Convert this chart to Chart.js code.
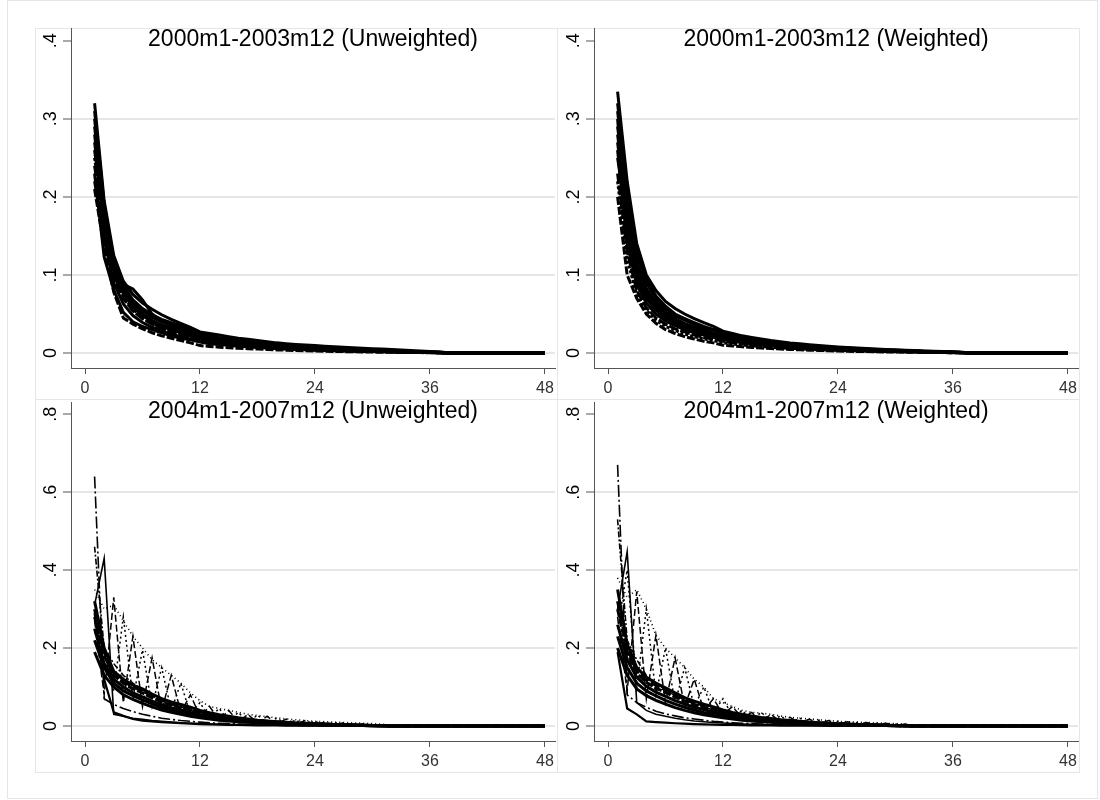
<!DOCTYPE html>
<html>
<head>
<meta charset="utf-8">
<script src="https://cdn.jsdelivr.net/npm/chart.js@4.4.1/dist/chart.umd.min.js"></script>
<style>
html,body{margin:0;padding:0;background:#fff;}
#page{position:relative;width:1100px;height:800px;overflow:hidden;background:#fff;}
.frame{position:absolute;border:1px solid #e6e6e6;box-sizing:border-box;}
canvas{position:absolute;}
</style>
</head>
<body>
<div id="page">
<div class="frame" style="left:7px;top:0;width:1091px;height:799px"></div>
<div class="frame" style="left:35px;top:28px;width:523px;height:372px"></div>
<div class="frame" style="left:557px;top:28px;width:523px;height:372px"></div>
<div class="frame" style="left:35px;top:399px;width:523px;height:374px"></div>
<div class="frame" style="left:557px;top:399px;width:523px;height:374px"></div>
<canvas id="cTL" width="522" height="399" style="left:35px;top:0"></canvas>
<canvas id="cTR" width="522" height="399" style="left:558px;top:0"></canvas>
<canvas id="cBL" width="522" height="401" style="left:35px;top:399px"></canvas>
<canvas id="cBR" width="522" height="401" style="left:558px;top:399px"></canvas>
</div>
<script>
// ---------- categories / ticks ----------
const months = [1,2,3,4,5,6,7,8,9,10,11,12,13,14,15,16,17,18,19,20,21,22,23,24,25,26,27,28,29,30,31,32,33,34,35,36,37,38,39,40,41,42,43,44,45,46,47,48];
const xTickValues = [0,12,24,36,48];
const xTickLabels = ['0','12','24','36','48'];
const topYTicks = [0,0.1,0.2,0.3,0.4];
const topYLabels = ['0','.1','.2','.3','.4'];
const botYTicks = [0,0.2,0.4,0.6,0.8];
const botYLabels = ['0','.2','.4','.6','.8'];
const panelTitles = ['2000m1-2003m12 (Unweighted)','2000m1-2003m12 (Weighted)','2004m1-2007m12 (Unweighted)','2004m1-2007m12 (Weighted)'];

// ---------- 2000m1-2003m12 unweighted ----------
const u0a = [.32,.195,.125,.092,.075,.064,.056,.049,.043,.038,.033,.027,.025,.023,.021,.019,.0175,.016,.0145,.013,.012,.011,.0102,.0095,.0088,.0081,.0075,.0069,.0062,.0055,.005,.0044,.0038,.0032,.0027,.002,.0015,0,0,0,0,0,0,0,0,0,0,0];
const u0b = [.21,.135,.078,.045,.037,.031,.026,.022,.019,.016,.013,.0095,.0085,.0075,.0068,.006,.0055,.005,.0045,.004,.0036,.0032,.0028,.0025,.0022,.002,.0018,.0016,.0014,.0012,.001,.0009,.0008,.0006,.0005,.0003,.0002,0,0,0,0,0,0,0,0,0,0,0];
const u0c = [.30,.185,.118,.085,.066,.054,.046,.040,.035,.031,.028,.024,.021,.019,.017,.015,.0135,.012,.011,.0098,.0088,.008,.0072,.0065,.0059,.0053,.0048,.0043,.0038,.0034,.003,.0026,.0022,.0018,.0014,.001,.0006,0,0,0,0,0,0,0,0,0,0,0];
const u0d = [.28,.175,.11,.08,.062,.05,.042,.036,.032,.028,.025,.021,.019,.017,.015,.0135,.012,.0108,.0097,.0087,.0078,.007,.0063,.0056,.005,.0045,.004,.0036,.0032,.0028,.0024,.002,.0017,.0014,.0011,.0008,.0005,0,0,0,0,0,0,0,0,0,0,0];
const u0e = [.26,.165,.105,.076,.059,.048,.040,.034,.03,.026,.023,.019,.017,.0152,.0136,.012,.0108,.0097,.0087,.0078,.007,.0062,.0056,.005,.0044,.004,.0035,.0031,.0027,.0024,.0021,.0018,.0015,.0012,.001,.0007,.0004,0,0,0,0,0,0,0,0,0,0,0];
const u0f = [.24,.155,.098,.07,.054,.044,.037,.031,.027,.024,.021,.017,.0155,.0138,.0123,.011,.0098,.0088,.0079,.007,.0063,.0056,.005,.0045,.004,.0036,.0032,.0028,.0025,.0022,.0019,.0016,.0013,.0011,.0008,.0006,.0003,0,0,0,0,0,0,0,0,0,0,0];
const u0g = [.29,.18,.11,.088,.082,.068,.05,.041,.036,.033,.031,.024,.02,.018,.016,.014,.0125,.011,.01,.009,.008,.0072,.0065,.0058,.0052,.0047,.0042,.0038,.0034,.003,.0026,.0022,.0019,.0016,.0013,.001,.0007,0,0,0,0,0,0,0,0,0,0,0];
const u0h = [.23,.123,.081,.052,.04,.034,.03,.026,.022,.019,.017,.014,.012,.011,.0098,.0088,.0079,.007,.0063,.0057,.0051,.0046,.0041,.0037,.0033,.003,.0027,.0024,.0021,.0018,.0015,.0013,.0011,.0009,.0007,.0005,.0003,0,0,0,0,0,0,0,0,0,0,0];
const u0i = [.31,.19,.12,.087,.068,.057,.049,.043,.039,.035,.032,.026,.023,.02,.018,.016,.0145,.013,.0118,.0106,.0095,.0085,.0077,.007,.0063,.0057,.0051,.0046,.0041,.0036,.0032,.0028,.0024,.002,.0016,.0012,.0008,0,0,0,0,0,0,0,0,0,0,0];
const u0j = [.25,.16,.1,.072,.056,.045,.038,.032,.028,.025,.022,.018,.016,.0145,.013,.0116,.0104,.0093,.0083,.0074,.0066,.0059,.0053,.0047,.0042,.0038,.0034,.003,.0027,.0024,.0021,.0018,.0015,.0012,.0009,.0006,.0004,0,0,0,0,0,0,0,0,0,0,0];
const u0k = [.27,.17,.108,.078,.06,.049,.041,.035,.031,.027,.024,.02,.018,.016,.0142,.0127,.0114,.0102,.0092,.0082,.0074,.0066,.0059,.0053,.0047,.0042,.0038,.0034,.003,.0026,.0023,.002,.0017,.0014,.0011,.0008,.0005,0,0,0,0,0,0,0,0,0,0,0];
const u0l = [.22,.145,.09,.063,.048,.039,.033,.028,.024,.021,.018,.015,.013,.0118,.0106,.0095,.0085,.0076,.0068,.0061,.0055,.0049,.0044,.004,.0036,.0032,.0029,.0026,.0023,.002,.0018,.0015,.0013,.0011,.0009,.0006,.0004,0,0,0,0,0,0,0,0,0,0,0];

// ---------- 2000m1-2003m12 weighted ----------
const w0a = [.335,.22,.14,.1,.08,.066,.057,.05,.044,.039,.034,.028,.025,.022,.02,.018,.016,.0145,.013,.0118,.0106,.0095,.0086,.0078,.007,.0063,.0057,.0051,.0046,.0041,.0036,.0031,.0027,.0023,.0019,.0015,.001,0,0,0,0,0,0,0,0,0,0,0];
const w0b = [.2,.1,.07,.05,.038,.03,.025,.021,.018,.015,.013,.01,.009,.008,.0072,.0064,.0057,.0051,.0046,.0041,.0037,.0033,.0029,.0026,.0023,.002,.0018,.0016,.0014,.0012,.001,.0009,.0008,.0006,.0005,.0003,.0002,0,0,0,0,0,0,0,0,0,0,0];
const w0c = [.31,.2,.125,.09,.07,.057,.048,.042,.037,.033,.03,.025,.022,.0195,.0175,.0157,.014,.0126,.0113,.0101,.009,.0081,.0073,.0066,.0059,.0053,.0047,.0042,.0037,.0033,.0029,.0025,.0021,.0017,.0013,.001,.0006,0,0,0,0,0,0,0,0,0,0,0];
const w0d = [.27,.165,.108,.079,.061,.05,.042,.036,.032,.028,.025,.021,.019,.017,.015,.0135,.012,.0108,.0097,.0087,.0078,.007,.0063,.0056,.005,.0045,.004,.0036,.0032,.0028,.0024,.002,.0017,.0014,.0011,.0008,.0005,0,0,0,0,0,0,0,0,0,0,0];
const w0e = [.3,.15,.095,.07,.055,.045,.038,.033,.029,.026,.023,.019,.017,.0152,.0136,.012,.0108,.0097,.0087,.0078,.007,.0062,.0056,.005,.0044,.004,.0035,.0031,.0027,.0024,.0021,.0018,.0015,.0012,.001,.0007,.0004,0,0,0,0,0,0,0,0,0,0,0];
const w0f = [.23,.13,.08,.058,.045,.037,.031,.027,.023,.02,.018,.015,.013,.0118,.0106,.0095,.0085,.0076,.0068,.0061,.0055,.0049,.0044,.004,.0036,.0032,.0029,.0026,.0023,.002,.0018,.0015,.0013,.0011,.0009,.0006,.0004,0,0,0,0,0,0,0,0,0,0,0];
const w0g = [.29,.19,.105,.092,.07,.052,.047,.044,.036,.031,.03,.027,.021,.018,.017,.015,.013,.012,.0105,.0095,.0085,.0076,.0068,.006,.0054,.0048,.0043,.0038,.0034,.003,.0026,.0022,.0019,.0016,.0013,.001,.0007,0,0,0,0,0,0,0,0,0,0,0];
const w0h = [.25,.165,.102,.074,.057,.046,.039,.033,.029,.026,.023,.018,.016,.0145,.013,.0116,.0104,.0093,.0083,.0074,.0066,.0059,.0053,.0047,.0042,.0038,.0034,.003,.0027,.0024,.0021,.0018,.0015,.0012,.0009,.0006,.0004,0,0,0,0,0,0,0,0,0,0,0];
const w0i = [.32,.21,.13,.095,.073,.06,.05,.044,.039,.034,.03,.026,.023,.02,.018,.016,.0145,.013,.0118,.0106,.0095,.0085,.0077,.007,.0063,.0057,.0051,.0046,.0041,.0036,.0032,.0028,.0024,.002,.0016,.0012,.0008,0,0,0,0,0,0,0,0,0,0,0];
const w0j = [.22,.12,.075,.055,.042,.034,.029,.024,.021,.018,.016,.013,.0115,.0103,.0092,.0083,.0074,.0066,.0059,.0053,.0047,.0042,.0038,.0034,.003,.0027,.0024,.0021,.0019,.0016,.0014,.0012,.001,.0008,.0006,.0004,.0002,0,0,0,0,0,0,0,0,0,0,0];
const w0k = [.28,.18,.115,.083,.064,.052,.044,.038,.033,.029,.026,.022,.0195,.0175,.0156,.014,.0125,.0112,.01,.009,.0081,.0072,.0065,.0058,.0052,.0047,.0042,.0037,.0033,.0029,.0025,.0021,.0018,.0015,.0012,.0009,.0006,0,0,0,0,0,0,0,0,0,0,0];
const w0l = [.26,.14,.088,.064,.05,.041,.035,.03,.026,.023,.02,.017,.015,.0134,.012,.0107,.0096,.0086,.0077,.0069,.0062,.0055,.0049,.0044,.0039,.0035,.0031,.0028,.0025,.0022,.0019,.0016,.0014,.0012,.0009,.0006,.0004,0,0,0,0,0,0,0,0,0,0,0];

// ---------- 2004m1-2007m12 unweighted ----------
const u4a = [.32,.2,.14,.12,.105,.095,.082,.07,.062,.055,.048,.04,.034,.029,.025,.021,.018,.015,.013,.011,.0095,.008,.007,.006,.005,.004,.003,.0024,.0018,.0012,.0006,0,0,0,0,0,0,0,0,0,0,0,0,0,0,0,0,0];
const u4b = [.28,.18,.13,.11,.095,.085,.072,.062,.054,.047,.041,.034,.029,.025,.021,.018,.015,.013,.011,.0093,.008,.0068,.0058,.005,.0042,.0035,.0028,.0022,.0016,.001,.0005,0,0,0,0,0,0,0,0,0,0,0,0,0,0,0,0,0];
const u4c = [.25,.16,.12,.1,.085,.075,.064,.055,.047,.041,.035,.029,.025,.021,.018,.015,.013,.011,.0093,.008,.0068,.0058,.005,.0042,.0035,.0029,.0024,.0019,.0014,.0009,.0004,0,0,0,0,0,0,0,0,0,0,0,0,0,0,0,0,0];
const u4d = [.22,.15,.11,.09,.078,.067,.057,.048,.041,.035,.03,.025,.021,.018,.015,.013,.011,.0093,.008,.0068,.0058,.005,.0042,.0036,.003,.0025,.002,.0016,.0012,.0008,.0004,0,0,0,0,0,0,0,0,0,0,0,0,0,0,0,0,0];
const u4e = [.19,.13,.1,.08,.068,.058,.049,.041,.035,.03,.025,.021,.018,.015,.013,.011,.0093,.008,.0068,.0058,.005,.0042,.0036,.003,.0025,.0021,.0017,.0013,.001,.0007,.0003,0,0,0,0,0,0,0,0,0,0,0,0,0,0,0,0,0];
const u4f = [.3,.19,.135,.115,.1,.09,.077,.066,.058,.051,.044,.037,.031,.027,.023,.0195,.0165,.014,.012,.0102,.0087,.0074,.0063,.0054,.0046,.0038,.0031,.0025,.0018,.0011,.0005,0,0,0,0,0,0,0,0,0,0,0,0,0,0,0,0,0];
const u4g = [.29,.12,.035,.026,.018,.014,.012,.01,.0085,.0072,.006,.005,.0042,.0036,.003,.0025,.0021,.0018,.0015,.0013,.0011,.0009,.0008,.0007,.0006,.0005,.0004,.0003,.0002,.0001,0,0,0,0,0,0,0,0,0,0,0,0,0,0,0,0,0,0];
const u4h = [.64,.07,.055,.045,.037,.03,.025,.02,.017,.014,.012,.01,.008,.007,.006,.005,.0042,.0035,.003,.0025,.002,.0017,.0014,.0012,.001,.0008,.0006,.0004,.0003,.0002,.0001,0,0,0,0,0,0,0,0,0,0,0,0,0,0,0,0,0];
const u4i = [.31,.43,.03,.025,.02,.017,.014,.012,.01,.008,.007,.006,.005,.0045,.004,.0035,.003,.0025,.002,.0018,.0015,.0012,.001,.0008,.0006,.0005,.0004,.0003,.0002,.0001,0,0,0,0,0,0,0,0,0,0,0,0,0,0,0,0,0,0];
const u4j = [.27,.08,.33,.06,.23,.05,.175,.04,.13,.035,.08,.025,.05,.015,.04,.01,.03,.008,.025,.006,.018,.005,.014,.004,.01,.003,.008,.002,.006,.001,.003,0,0,0,0,0,0,0,0,0,0,0,0,0,0,0,0,0];
const u4k = [.24,.2,.09,.28,.07,.195,.05,.15,.04,.11,.03,.06,.02,.045,.012,.035,.01,.028,.007,.02,.006,.015,.004,.012,.003,.009,.002,.007,.001,.004,0,0,0,0,0,0,0,0,0,0,0,0,0,0,0,0,0,0];
const u4l = [.46,.2,.16,.13,.11,.092,.078,.066,.056,.048,.041,.035,.03,.026,.022,.019,.016,.014,.012,.01,.0085,.0072,.006,.005,.0042,.0035,.0028,.0022,.0016,.001,.0005,0,0,0,0,0,0,0,0,0,0,0,0,0,0,0,0,0];
const u4m = [.35,.3,.31,.27,.23,.2,.17,.15,.13,.11,.085,.065,.05,.045,.04,.035,.03,.027,.024,.021,.018,.016,.014,.012,.011,.01,.009,.008,.007,.006,.005,0,0,0,0,0,0,0,0,0,0,0,0,0,0,0,0,0];

// ---------- 2004m1-2007m12 weighted ----------
const w4a = [.35,.21,.15,.125,.11,.098,.085,.073,.064,.056,.049,.041,.035,.03,.026,.022,.019,.016,.014,.012,.01,.0085,.0072,.006,.005,.004,.0032,.0025,.0018,.0011,.0005,0,0,0,0,0,0,0,0,0,0,0,0,0,0,0,0,0];
const w4b = [.3,.19,.135,.112,.097,.086,.074,.063,.055,.048,.042,.035,.03,.026,.022,.019,.016,.0135,.0115,.0097,.0082,.007,.006,.005,.0042,.0035,.0028,.0022,.0016,.001,.0005,0,0,0,0,0,0,0,0,0,0,0,0,0,0,0,0,0];
const w4c = [.26,.17,.125,.102,.087,.076,.065,.056,.048,.042,.036,.03,.026,.022,.019,.016,.0135,.0115,.0097,.0082,.007,.006,.005,.0042,.0035,.0029,.0024,.0019,.0014,.0009,.0004,0,0,0,0,0,0,0,0,0,0,0,0,0,0,0,0,0];
const w4d = [.23,.15,.11,.09,.077,.066,.056,.048,.041,.035,.03,.025,.021,.018,.015,.013,.011,.0093,.008,.0068,.0058,.005,.0042,.0036,.003,.0025,.002,.0016,.0012,.0008,.0004,0,0,0,0,0,0,0,0,0,0,0,0,0,0,0,0,0];
const w4e = [.2,.13,.095,.078,.066,.056,.047,.04,.034,.029,.025,.021,.018,.015,.013,.011,.0093,.008,.0068,.0058,.005,.0042,.0036,.003,.0025,.0021,.0017,.0013,.001,.0007,.0003,0,0,0,0,0,0,0,0,0,0,0,0,0,0,0,0,0];
const w4f = [.32,.2,.14,.118,.104,.093,.08,.069,.06,.053,.046,.038,.032,.028,.024,.0205,.0175,.015,.0127,.0108,.0092,.0078,.0066,.0056,.0047,.0039,.0032,.0025,.0018,.0011,.0005,0,0,0,0,0,0,0,0,0,0,0,0,0,0,0,0,0];
const w4g = [.19,.045,.03,.012,.01,.0085,.007,.006,.005,.0042,.0036,.003,.0025,.0021,.0018,.0015,.0013,.0011,.0009,.0008,.0007,.0006,.0005,.0004,.0003,.0003,.0002,.0002,.0001,.0001,0,0,0,0,0,0,0,0,0,0,0,0,0,0,0,0,0,0];
const w4h = [.67,.08,.06,.048,.038,.031,.026,.021,.018,.015,.012,.01,.0085,.0072,.006,.005,.0042,.0035,.003,.0025,.002,.0017,.0014,.0012,.001,.0008,.0006,.0004,.0003,.0002,.0001,0,0,0,0,0,0,0,0,0,0,0,0,0,0,0,0,0];
const w4i = [.3,.447,.06,.04,.03,.025,.02,.016,.013,.011,.009,.0075,.0063,.0053,.0045,.0038,.0032,.0027,.0022,.0018,.0015,.0012,.001,.0008,.0006,.0005,.0004,.0003,.0002,.0001,0,0,0,0,0,0,0,0,0,0,0,0,0,0,0,0,0,0];
const w4j = [.28,.09,.345,.07,.233,.06,.175,.05,.12,.04,.07,.03,.05,.02,.035,.012,.03,.01,.022,.007,.018,.006,.014,.005,.011,.004,.009,.003,.007,.002,.005,0,0,0,0,0,0,0,0,0,0,0,0,0,0,0,0,0];
const w4k = [.25,.4,.1,.3,.08,.2,.06,.15,.05,.1,.035,.07,.025,.04,.015,.035,.012,.026,.009,.02,.007,.015,.005,.012,.004,.009,.003,.007,.002,.005,.001,0,0,0,0,0,0,0,0,0,0,0,0,0,0,0,0,0];
const w4l = [.53,.22,.17,.13,.11,.092,.078,.066,.056,.048,.041,.035,.03,.026,.022,.019,.016,.014,.012,.01,.0085,.0072,.006,.005,.0042,.0035,.0028,.0022,.0016,.001,.0005,0,0,0,0,0,0,0,0,0,0,0,0,0,0,0,0,0];
const w4m = [.38,.33,.35,.3,.233,.2,.175,.15,.12,.1,.07,.06,.05,.04,.035,.033,.03,.026,.022,.02,.018,.016,.014,.012,.011,.01,.009,.008,.007,.006,.005,0,0,0,0,0,0,0,0,0,0,0,0,0,0,0,0,0];

// ---------- styling (not data) ----------
const FONT = '"Liberation Sans", Arial, Helvetica, sans-serif';
const topDash = [[], [8,2], [], [], [], [10,2], [], [], [], [3,2], [], []];
const topWidth = [3,3,3,3,3,3,3,3,3,3,3,3];
const botDash = [[], [8,2], [], [], [], [10,3], [], [12,3,2,3], [], [7,3], [2,3], [6,2,2,2], [1,3]];
const botWidth = [3,3,3,3,3,3,2.2,1.6,1.6,1.5,1.5,1.6,1.6];
const X_MIN = -1.461, X_MAX = 49.045;

function makePanel(id, title, series, dashes, widths, yTicks, yLabels, yMin, yMax, xAxisHeight, titlePad) {
  const datasets = series.map((vals, i) => ({
    data: vals.map((v, j) => ({x: months[j], y: v})),
    borderColor: '#000',
    borderWidth: widths[i],
    borderDash: dashes[i],
    borderCapStyle: 'butt',
    borderJoinStyle: 'miter',
    pointRadius: 0,
    fill: false,
    tension: 0
  }));
  return new Chart(document.getElementById(id), {
    type: 'line',
    data: {datasets},
    options: {
      responsive: false,
      animation: false,
      events: [],
      layout: {padding: {left: 0, right: 2, top: 0, bottom: 0}},
      plugins: {
        legend: {display: false},
        tooltip: {enabled: false},
        title: {
          display: true, text: title, fullSize: false, align: 'center', color: '#000',
          font: {family: FONT, size: 23, weight: 'normal', lineHeight: 1.2},
          padding: titlePad
        }
      },
      scales: {
        x: {
          type: 'linear', min: X_MIN, max: X_MAX,
          afterBuildTicks: s => { s.ticks = xTickValues.map(v => ({value: v})); },
          afterFit: s => { s.height = xAxisHeight; s.paddingLeft = 0; s.paddingRight = 0; },
          grid: {drawOnChartArea: false, drawTicks: true, tickLength: 6, tickColor: '#555', tickWidth: 1},
          border: {display: true, color: '#555', width: 1},
          ticks: {color: '#333', font: {family: FONT, size: 16}, padding: 5, minRotation: 0, maxRotation: 0, autoSkip: false,
                  callback: (v, i) => xTickLabels[i]}
        },
        y: {
          type: 'linear', min: yMin, max: yMax,
          afterBuildTicks: s => { s.ticks = yTicks.map(v => ({value: v})); },
          afterFit: s => { s.width = 36; s.paddingTop = 0; s.paddingBottom = 0; },
          grid: {
            color: c => (c.tick && c.tick.value === yTicks[yTicks.length - 1]) ? 'rgba(0,0,0,0)' : '#e6e6e6',
            lineWidth: 2, drawTicks: true, tickLength: 8, tickColor: '#555', tickWidth: 1
          },
          border: {display: true, color: '#555', width: 1},
          ticks: {color: '#000', font: {family: FONT, size: 18}, padding: 4, minRotation: 90, maxRotation: 90,
                  crossAlign: 'center', autoSkip: false, callback: (v, i) => yLabels[i]}
        }
      }
    }
  });
}

// title box: centre of text ~11px below panel top, plot area begins right under the panel edge
const topPad = {top: 25.6, bottom: -24.4};
const botPad = {top: -1.0, bottom: -23.4};

makePanel('cTL', panelTitles[0], [u0a,u0b,u0c,u0d,u0e,u0f,u0g,u0h,u0i,u0j,u0k,u0l], topDash, topWidth, topYTicks, topYLabels, -0.0192, 0.4154, 31, topPad);
makePanel('cTR', panelTitles[1], [w0a,w0b,w0c,w0d,w0e,w0f,w0g,w0h,w0i,w0j,w0k,w0l], topDash, topWidth, topYTicks, topYLabels, -0.0192, 0.4154, 31, topPad);
makePanel('cBL', panelTitles[2], [u4a,u4b,u4c,u4d,u4e,u4f,u4g,u4h,u4i,u4j,u4k,u4l,u4m], botDash, botWidth, botYTicks, botYLabels, -0.0385, 0.8308, 59, botPad);
makePanel('cBR', panelTitles[3], [w4a,w4b,w4c,w4d,w4e,w4f,w4g,w4h,w4i,w4j,w4k,w4l,w4m], botDash, botWidth, botYTicks, botYLabels, -0.0385, 0.8308, 59, botPad);
</script>
</body>
</html>
